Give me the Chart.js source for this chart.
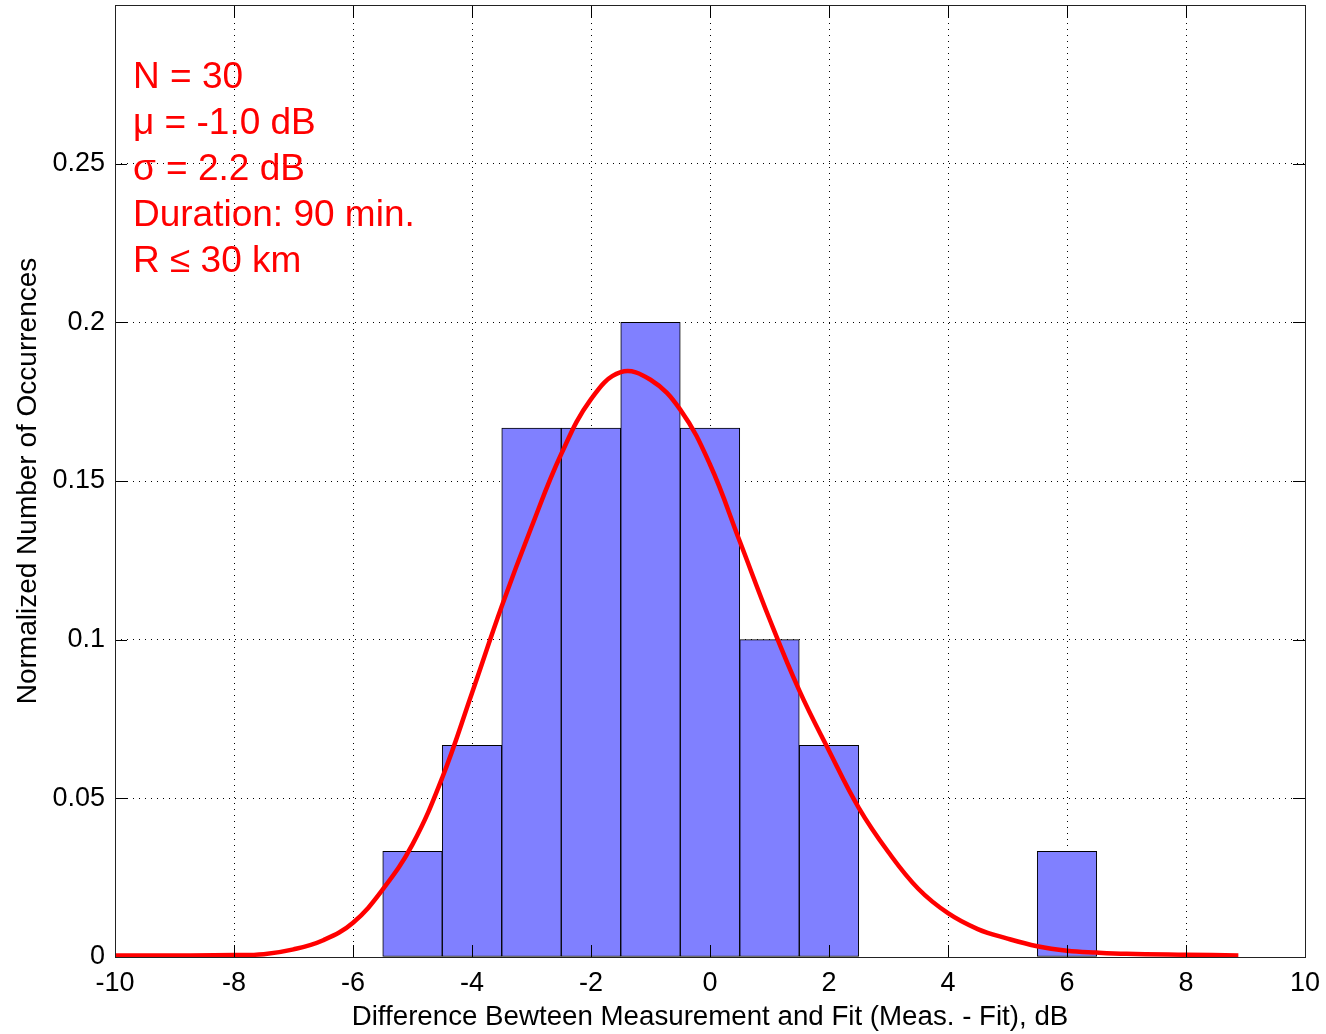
<!DOCTYPE html>
<html>
<head>
<meta charset="utf-8">
<script src="https://cdn.jsdelivr.net/npm/chart.js@4.4.1/dist/chart.umd.min.js"></script>
<style>
  body { margin: 0; background: #fff; }
  #wrap { width: 1326px; height: 1034px; }
</style>
</head>
<body>
<div id="wrap"><canvas id="hist_chart" width="1326" height="1034"></canvas></div>
<script>
// histogram bins (bin centers, normalized counts)
const binCenters = [-5, -4, -3, -2, -1, 0, 1, 2, 6];
const binHeights = [0.0333, 0.0667, 0.1667, 0.1667, 0.2, 0.1667, 0.1, 0.0667, 0.0333];

// fitted curve
const fitX = [-10, -9, -8, -7.5, -7, -6.5, -6, -5.5, -5, -4.5, -4, -3.5, -3, -2.5, -2, -1.5,
              -1, -0.5, 0, 0.5, 1, 1.5, 2, 2.5, 3, 3.5, 4, 4.5, 5, 5.5, 6, 6.5, 7, 8, 8.88];
const fitY = [0.0005, 0.0005, 0.0006, 0.0009, 0.0024, 0.0053, 0.0108, 0.0213, 0.0355, 0.0565,
              0.0832, 0.1105, 0.1355, 0.1585, 0.1758, 0.1843, 0.1819, 0.1725, 0.1552,
              0.131, 0.1065, 0.084, 0.065, 0.047, 0.033, 0.0215, 0.0138, 0.0088, 0.0058, 0.0034,
              0.002, 0.0014, 0.001, 0.0007, 0.0005];

// stats text
const statLines = ["N = 30", "\u03bc = -1.0 dB", "\u03c3 = 2.2 dB", "Duration: 90 min.", "R \u2264 30 km"];

const FONT = "'Liberation Sans', Arial, sans-serif";

// frame + inward tick marks + red text
const matlabAxes = {
    id: "matlabAxes",
    afterDatasetsDraw(chart) {
        const ctx = chart.ctx;
        const a = chart.chartArea;
        const xs = chart.scales.x, ys = chart.scales.y;
        const tl = 12;
        ctx.save();
        ctx.strokeStyle = "#000";
        ctx.lineWidth = 1;
        ctx.beginPath();
        xs.ticks.forEach(t => {
            const px = Math.round(xs.getPixelForValue(t.value)) + 0.5;
            ctx.moveTo(px, a.bottom); ctx.lineTo(px, a.bottom - tl);
            ctx.moveTo(px, a.top); ctx.lineTo(px, a.top + tl);
        });
        ys.ticks.forEach(t => {
            const py = Math.round(ys.getPixelForValue(t.value)) + 0.5;
            ctx.moveTo(a.left, py); ctx.lineTo(a.left + tl, py);
            ctx.moveTo(a.right, py); ctx.lineTo(a.right - tl, py);
        });
        ctx.stroke();
        ctx.strokeStyle = "#222";
        ctx.strokeRect(Math.round(a.left) + 0.5, Math.round(a.top) + 0.5,
                       Math.round(a.right - a.left), Math.round(a.bottom - a.top));

        ctx.fillStyle = "#ff0000";
        ctx.font = "37px " + FONT;
        ctx.textBaseline = "middle";
        ctx.textAlign = "left";
        statLines.forEach((s, i) => {
            ctx.fillText(s, 133, 78 + i * 46);
        });
        ctx.restore();
    }
};

const chart = new Chart(document.getElementById("hist_chart").getContext("2d"), {
    type: "bar",
    data: {
        datasets: [
            {
                type: "line",
                label: "fit",
                data: fitX.map((x, i) => ({x: x, y: fitY[i]})),
                borderColor: "#ff0000",
                borderWidth: 4.5,
                pointRadius: 0,
                fill: false,
                tension: 0.4,
                order: 0
            },
            {
                type: "bar",
                label: "hist",
                data: binCenters.map((x, i) => ({x: x, y: binHeights[i]})),
                backgroundColor: "#8080ff",
                borderColor: "#000",
                borderWidth: 1,
                borderSkipped: false,
                barPercentage: 1,
                categoryPercentage: 1,
                order: 1
            }
        ]
    },
    plugins: [matlabAxes],
    options: {
        responsive: false,
        animation: false,
        layout: { padding: { top: 5, right: 21, left: 0, bottom: 0 } },
        plugins: { legend: { display: false }, tooltip: { enabled: false } },
        scales: {
            x: {
                type: "linear",
                min: -10, max: 10,
                offset: false,
                afterFit: s => { s.height = 77; s.paddingLeft = 0; s.paddingRight = 0; },
                ticks: { stepSize: 2, color: "#000", padding: 10, maxRotation: 0,
                         font: { family: FONT, size: 27 } },
                grid: { color: "#000", lineWidth: 1, drawTicks: false, offset: false },
                border: { display: false, dash: [1, 5] },
                title: { display: true, text: "Difference Bewteen Measurement and Fit (Meas. - Fit), dB",
                         color: "#000", font: { family: FONT, size: 27.7 }, padding: { top: 0, bottom: 0 } }
            },
            y: {
                min: 0, max: 0.3,
                afterFit: s => { s.width = 115; s.paddingTop = 0; s.paddingBottom = 0; },
                ticks: { stepSize: 0.05, color: "#000", padding: 10,
                         font: { family: FONT, size: 27 },
                         callback: v => (v > 0.29 ? "" : String(Number(v.toFixed(2)))) },
                grid: { color: "#000", lineWidth: 1, drawTicks: false },
                border: { display: false, dash: [1, 5] },
                title: { display: true, text: "Normalized Number of Occurrences",
                         color: "#000", font: { family: FONT, size: 28 }, padding: { top: 11, bottom: 0 } }
            }
        }
    }
});
</script>
</body>
</html>
